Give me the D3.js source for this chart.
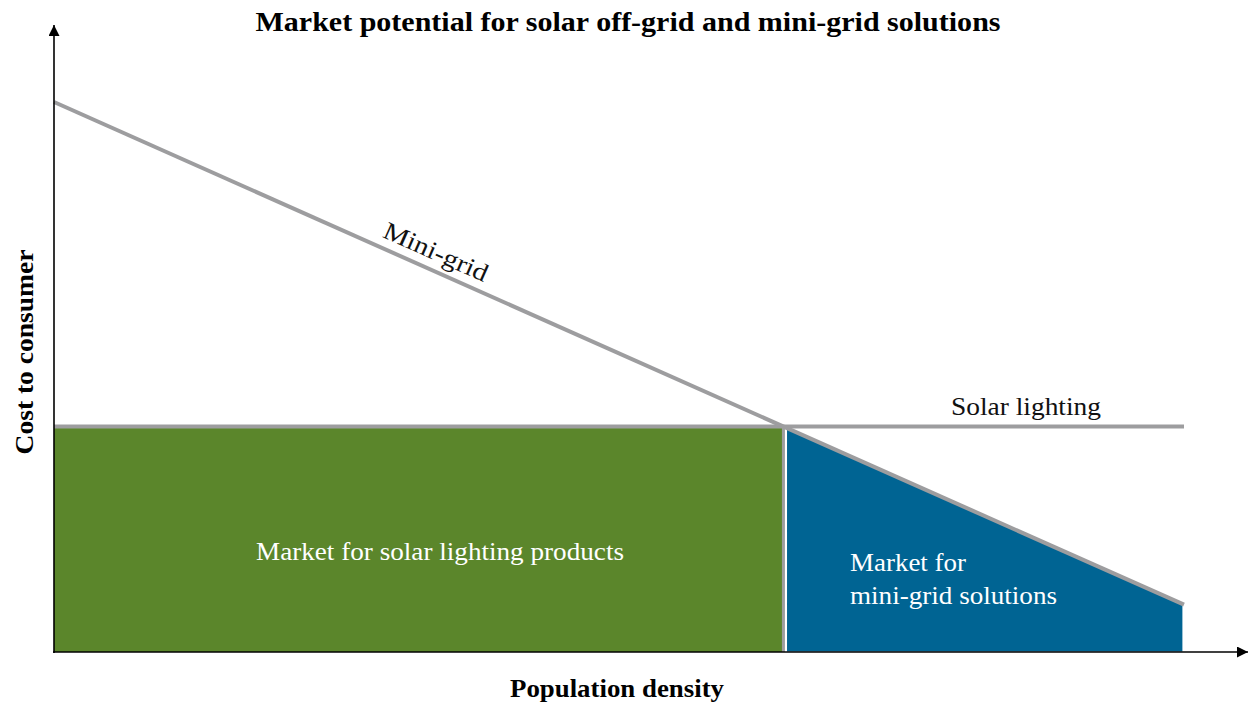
<!DOCTYPE html>
<html><head><meta charset="utf-8">
<script src="https://cdn.jsdelivr.net/npm/d3@7"></script>
<style>body{margin:0;background:#fff}svg{display:block}text{font-family:"Liberation Serif","Times New Roman",serif}</style>
</head><body>
<script>
// Data (conceptual units, 0..100)
const density = [0, 100];
const miniGridCost = [100, 8.6];
const solarCost = [41, 41];
const title = "Market potential for solar off-grid and mini-grid solutions";
const xLabel = "Population density";
const yLabel = "Cost to consumer";
const lineLabels = ["Mini-grid", "Solar lighting"];
const areaLabels = [["Market for solar lighting products"], ["Market for", "mini-grid solutions"]];

const W = 1248, H = 706;
const svg = d3.select("body").append("svg").attr("width", W).attr("height", H);
const x = d3.scaleLinear().domain([0, 100]).range([54, 1184]);
const y = d3.scaleLinear().domain([0, 100]).range([652, 102]);

// crossover
const m = (miniGridCost[1] - miniGridCost[0]) / (density[1] - density[0]);
const xc = (solarCost[0] - miniGridCost[0]) / m + density[0];
const mg = d => miniGridCost[0] + m * (d - density[0]);

const green = "#5b862b", blue = "#006493", gray = "#9d9d9f";

// green area
svg.append("rect").attr("x", x(0)).attr("y", y(solarCost[0]))
  .attr("width", x(xc) - x(0)).attr("height", y(0) - y(solarCost[0])).attr("fill", green);
// blue area (starts just right of the divider)
const area = d3.area().x(d => x(d)).y0(y(0)).y1(d => y(mg(d)));
svg.append("path").datum([x.invert(x(xc) + 3), x.invert(x(density[1]) - 1)]).attr("d", area)
  .attr("fill", blue).attr("stroke", "#fff").attr("stroke-width", 1.2);

// vertical divider
svg.append("line").attr("x1", x(xc)).attr("x2", x(xc)).attr("y1", y(solarCost[0])).attr("y2", y(0))
  .attr("stroke", gray).attr("stroke-width", 3);

const line = d3.line().x(d => x(d[0])).y(d => y(d[1]));
svg.append("path").datum(density.map((d, i) => [d, solarCost[i]])).attr("d", line)
  .attr("stroke", gray).attr("stroke-width", 4).attr("fill", "none");
svg.append("path").datum(density.map((d, i) => [d, miniGridCost[i]])).attr("d", line)
  .attr("stroke", gray).attr("stroke-width", 4).attr("fill", "none");

// axes with arrows
const defs = svg.append("defs");
defs.append("marker").attr("id", "arr").attr("viewBox", "0 0 10 10").attr("refX", 10).attr("refY", 5)
  .attr("markerWidth", 11).attr("markerHeight", 11).attr("markerUnits", "userSpaceOnUse")
  .attr("orient", "auto").append("path").attr("d", "M0,0L10,5L0,10Z").attr("fill", "#000");
svg.append("line").attr("x1", x(0)).attr("x2", x(0)).attr("y1", y(0) + 1).attr("y2", 25)
  .attr("stroke", "#000").attr("stroke-width", 1.6).attr("marker-end", "url(#arr)");
svg.append("line").attr("x1", x(0) - 1).attr("x2", 1248).attr("y1", y(0)).attr("y2", y(0))
  .attr("stroke", "#000").attr("stroke-width", 1.6).attr("marker-end", "url(#arr)");

function fit(sel, len) { return sel.attr("textLength", len).attr("lengthAdjust", "spacingAndGlyphs"); }

// titles
fit(svg.append("text").attr("x", 628).attr("y", 31).attr("text-anchor", "middle")
  .attr("font-size", 28).attr("font-weight", "bold").text(title), 745);
fit(svg.append("text").attr("x", 617).attr("y", 697).attr("text-anchor", "middle")
  .attr("font-size", 25).attr("font-weight", "bold").text(xLabel), 214);
fit(svg.append("text").attr("transform", "translate(33,352) rotate(-90)").attr("text-anchor", "middle")
  .attr("font-size", 25).attr("font-weight", "bold").text(yLabel), 205);

// line labels
const ang = Math.atan2(y(miniGridCost[1]) - y(miniGridCost[0]), x(density[1]) - x(density[0])) * 180 / Math.PI;
fit(svg.append("text").attr("transform", `translate(${x(33.5)},${y(mg(33.5)) - 11}) rotate(${ang})`)
  .attr("text-anchor", "middle").attr("font-size", 25).attr("fill", "#111").text(lineLabels[0]), 112);
fit(svg.append("text").attr("x", 1026).attr("y", y(solarCost[0]) - 12).attr("text-anchor", "middle")
  .attr("font-size", 25).attr("fill", "#111").text(lineLabels[1]), 150);

// area labels
fit(svg.append("text").attr("x", 440).attr("y", 560).attr("text-anchor", "middle")
  .attr("font-size", 25).attr("fill", "#fff").text(areaLabels[0][0]), 368);
const wl = [116, 207];
areaLabels[1].forEach((t, i) => fit(svg.append("text").attr("x", 850).attr("y", 571 + i * 33)
  .attr("font-size", 25).attr("fill", "#fff").text(t), wl[i]));
</script>
</body></html>
